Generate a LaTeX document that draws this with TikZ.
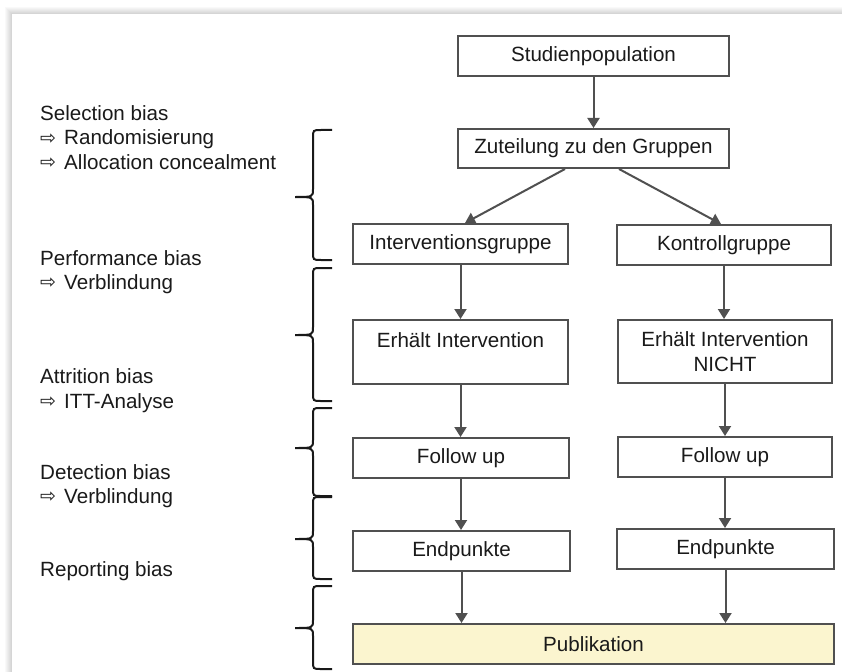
\documentclass[tikz,border=0pt]{standalone}
\usepackage{fontspec}
\setmainfont{Liberation Sans}
\newfontfamily\dejavu{DejaVu Sans}
\usetikzlibrary{arrows.meta}
\definecolor{linegray}{HTML}{505050}
\definecolor{txt}{HTML}{1A1A1A}
\definecolor{pubfill}{HTML}{FBF5CF}
\newcommand{\darr}{\makebox[24bp][l]{\raisebox{0.5bp}{\dejavu\fontsize{19bp}{19bp}\selectfont ⇨}}}
\begin{document}
\begin{tikzpicture}[x=1bp,y=-1bp,
  every node/.style={text=txt, font=\fontsize{20.6bp}{24.4bp}\selectfont},
  box/.style={draw=linegray, line width=2bp, inner sep=0pt, align=center},
  arr/.style={draw=linegray, line width=2bp, -{Triangle[length=10bp,width=12bp]}},
  lbl/.style={anchor=base west, inner sep=0pt},
  bracestyle/.style={draw=black!90, line width=2bp}]
\useasboundingbox (0,0) rectangle (842,672);
\fill[white] (0,0) rectangle (842,672);
\foreach \i in {1,...,7}{
  \fill[black, opacity=0.022] (12-\i,14-\i) rectangle (850,680);
}
\fill[white] (12,14) rectangle (850,680);

% boxes
\node[box, minimum width=271bp, minimum height=40bp] (stud) at (593.5,56) {Studienpopulation};
\node[box, minimum width=271bp, minimum height=39bp] (zut) at (593.5,148.5) {Zuteilung zu den Gruppen};
\node[box, minimum width=215bp, minimum height=40bp] (ig) at (460.5,244) {Interventionsgruppe};
\node[box, minimum width=214bp, minimum height=40bp] (kg) at (724,245) {Kontrollgruppe};
\node[box, minimum width=215bp, minimum height=64bp] (ei) at (460.5,352) {};
\node[lbl, anchor=base] (eit) at (460.5,347) {Erhält Intervention};
\node[box, minimum width=214bp, minimum height=63bp] (en) at (725,351.5) {Erhält Intervention\\NICHT};
\node[box, minimum width=216bp, minimum height=40bp] (fu1) at (461,458) {Follow up};
\node[box, minimum width=214bp, minimum height=40bp] (fu2) at (725,457) {Follow up};
\node[box, minimum width=217bp, minimum height=40bp] (ep1) at (461.5,551) {Endpunkte};
\node[box, minimum width=217bp, minimum height=40bp] (ep2) at (725.5,549) {Endpunkte};
\node[box, fill=pubfill, minimum width=481bp, minimum height=40bp] (pub) at (593.5,644) {Publikation};

% arrows
\draw[arr] (stud.south) -- (zut.north);
\draw[arr] ([xshift=-28.5bp]zut.south) -- ([xshift=4.5bp]ig.north);
\draw[arr] ([xshift=25.5bp]zut.south) -- ([xshift=-3bp]kg.north);
\draw[arr] (ig.south) -- (ig.south |- ei.north);
\draw[arr] (kg.south) -- (kg.south |- en.north);
\draw[arr] (ei.south) -- (ei.south |- fu1.north);
\draw[arr] (en.south) -- (en.south |- fu2.north);
\draw[arr] (fu1.south) -- (fu1.south |- ep1.north);
\draw[arr] (fu2.south) -- (fu2.south |- ep2.north);
\draw[arr] (ep1.south) -- (ep1.south |- pub.north);
\draw[arr] (ep2.south) -- (ep2.south |- pub.north);

% braces
\foreach \yt/\ym/\yb in {130/197/260, 268/335/401, 408/448/496, 497/539/579, 586/628/669}{
  \draw[bracestyle] (332,\yt) -- (321,\yt) .. controls (313,\yt) .. (313,\yt+8)
    -- (313,\ym-8) .. controls (313,\ym) .. (295,\ym)
    .. controls (313,\ym) .. (313,\ym+8)
    -- (313,\yb-8) .. controls (313,\yb) .. (321,\yb) -- (332,\yb);
}

% left labels
\node[lbl] (s1) at (40,120.5) {Selection bias};
\node[lbl] (s2) at (40,145) {\darr Randomisierung};
\node[lbl] (s3) at (40,169) {\darr Allocation concealment};
\node[lbl] (p1) at (40,265) {Performance bias};
\node[lbl] (p2) at (40,289) {\darr Verblindung};
\node[lbl] (a1) at (40,383.5) {Attrition bias};
\node[lbl] (a2) at (40,408) {\darr ITT-Analyse};
\node[lbl] (d1) at (40,479) {Detection bias};
\node[lbl] (d2) at (40,503) {\darr Verblindung};
\node[lbl] (r1) at (40,576) {Reporting bias};
\end{tikzpicture}
\end{document}
